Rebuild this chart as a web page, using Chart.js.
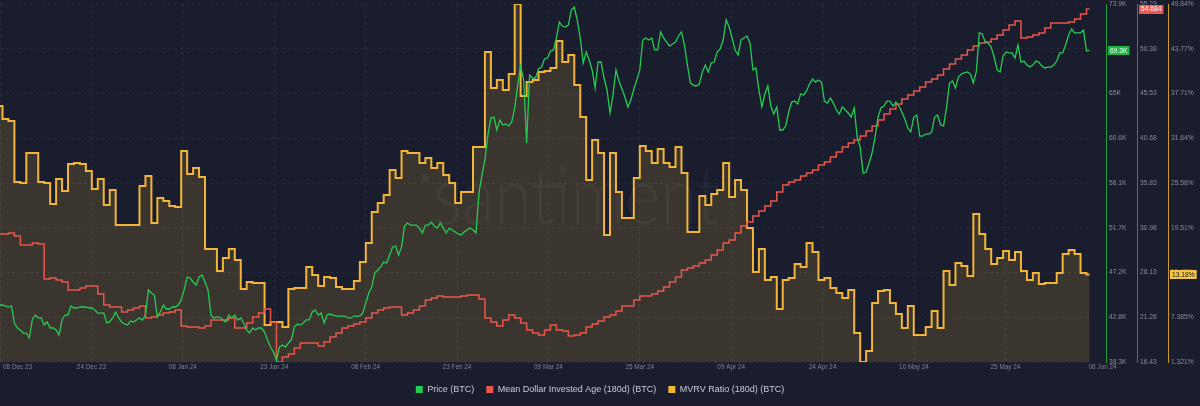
<!DOCTYPE html>
<html>
<head>
<meta charset="utf-8">
<script src="https://cdn.jsdelivr.net/npm/chart.js@4.4.1/dist/chart.umd.min.js"></script>
<style>
  html, body { margin: 0; padding: 0; background: #1a1d2e; }
  canvas { display: block; }
</style>
</head>
<body>
<canvas id="chart" width="1200" height="406"></canvas>
<script>
// daily values, 08 Dec 23 .. 08 Jun 24
var mvrv = [
  36.02,34.25,33.98,25.72,25.58,29.65,29.65,25.72,25.58,22.73,
  26.12,24.50,28.15,28.29,28.15,27.21,24.77,26.12,22.60,24.63,
  19.89,19.89,19.89,19.89,25.17,26.53,20.16,23.55,23.14,22.46,
  22.33,29.92,26.80,27.61,26.39,16.63,16.63,13.65,15.42,16.63,
  15.14,11.21,12.16,12.03,12.03,6.33,6.74,6.74,6.06,11.21,
  11.35,11.35,14.20,13.11,11.62,12.84,12.70,11.48,11.21,11.21,
  12.30,14.87,17.45,21.65,22.87,23.95,27.34,26.26,29.92,29.65,
  29.65,28.29,28.97,27.61,28.29,26.66,25.58,22.87,24.36,24.36,
  30.46,30.46,43.33,38.46,39.54,38.18,40.35,49.84,37.37,39.27,
  39.54,40.62,40.76,41.17,44.83,41.98,42.93,38.86,34.52,25.99,
  31.41,29.65,18.53,29.65,24.36,20.84,20.84,26.26,30.59,29.92,
  28.29,30.19,28.29,27.75,30.46,26.94,18.94,18.94,23.82,22.60,
  24.09,24.63,28.29,23.68,25.99,24.63,19.48,13.52,16.63,12.43,
  12.84,8.50,12.43,12.70,14.60,14.20,17.45,16.23,12.43,12.70,
  11.35,10.67,9.99,11.08,5.25,1.32,2.81,9.32,10.94,11.08,
  9.32,7.83,5.93,8.91,4.98,4.98,6.06,8.23,5.93,13.65,
  11.76,14.74,14.33,12.98,21.38,18.67,16.63,14.60,15.42,16.36,
  15.14,16.23,13.65,12.43,13.38,11.89,12.03,12.03,13.38,15.96,
  16.50,15.96,13.38,13.18
];

var mdia = [
  30.30,30.30,30.41,30.09,29.11,29.11,29.33,29.22,25.43,25.53,
  25.32,25.10,24.23,24.23,24.45,24.67,24.67,23.80,22.61,22.39,
  22.39,21.85,22.07,22.28,22.50,21.20,21.31,21.52,21.74,21.85,
  22.07,20.33,20.22,20.22,20.11,20.33,20.98,20.98,20.98,21.20,
  20.11,20.11,20.66,21.31,21.74,22.17,20.77,16.43,16.97,17.30,
  17.95,18.49,18.49,18.49,18.16,18.60,19.14,19.57,20.11,20.33,
  20.55,20.77,21.20,21.74,22.07,22.28,22.39,22.39,21.52,21.74,
  22.07,22.50,23.15,23.37,23.58,23.47,23.47,23.47,23.58,23.69,
  23.69,23.26,21.20,20.77,20.33,20.98,21.52,21.20,20.66,19.90,
  19.57,19.36,19.90,20.44,19.90,19.79,19.25,19.36,19.57,20.22,
  20.55,20.87,21.31,21.52,21.96,22.50,22.50,23.15,23.58,23.58,
  23.80,24.12,24.56,25.10,25.64,26.40,26.62,26.83,27.16,27.48,
  28.03,28.57,29.33,29.65,30.41,31.17,31.60,32.25,32.80,33.34,
  33.88,34.85,35.61,35.94,36.16,36.59,36.91,37.24,37.78,38.11,
  38.65,39.19,39.73,40.17,40.49,40.92,41.47,42.01,42.66,43.31,
  43.85,44.39,44.93,45.37,45.80,46.23,46.78,47.10,47.54,48.19,
  48.73,49.27,49.70,50.24,50.68,51.00,51.11,51.44,51.87,52.41,
  52.95,53.39,51.55,51.65,51.87,52.09,52.63,53.17,53.17,53.17,
  53.28,53.60,54.15,54.684
];

// BTC price in thousands USD, two readings per day
var priceK = [
  43.97,43.97,43.87,43.77,43.87,42.18,41.68,41.48,41.18,41.18,
  40.69,42.48,42.97,42.68,42.68,41.98,42.28,41.68,41.68,41.48,
  40.98,42.48,42.97,42.97,43.87,43.67,43.67,43.77,43.77,43.77,
  43.67,43.67,43.47,43.17,43.17,43.17,42.18,42.28,42.68,43.27,
  42.68,42.28,42.08,41.98,42.38,42.28,42.48,42.68,42.48,42.97,
  45.46,45.16,44.96,42.77,43.27,43.97,43.57,43.57,43.77,43.77,
  43.97,44.47,45.46,46.75,46.65,46.26,45.96,46.75,46.95,46.26,
  45.46,42.97,42.68,42.77,42.77,42.48,42.28,42.97,42.68,42.97,
  42.48,42.68,42.18,41.48,41.18,41.68,41.48,41.68,41.68,41.28,
  40.49,39.79,39.29,38.50,39.79,39.99,39.79,40.19,40.49,41.78,
  42.08,41.98,42.18,42.48,42.48,43.27,43.47,42.97,43.17,42.18,
  42.97,43.07,42.97,42.87,42.87,42.87,42.87,42.68,42.68,42.87,
  42.87,42.87,43.17,44.17,45.16,45.76,47.15,47.45,47.75,48.24,
  48.14,48.94,49.74,49.84,48.94,49.74,51.82,52.12,51.92,51.92,
  51.92,51.62,51.13,51.92,51.92,52.22,51.82,51.62,52.12,51.62,
  51.13,51.62,51.43,51.23,51.03,50.93,51.23,51.43,51.62,51.43,
  51.13,55.11,56.90,58.39,60.87,62.56,62.66,61.37,62.36,61.87,
  61.97,61.77,62.17,63.56,65.84,67.73,66.34,60.08,66.84,66.54,
  66.54,67.44,67.63,68.43,68.53,69.23,69.33,70.52,72.11,71.71,
  71.61,71.81,73.30,73.60,72.31,70.52,68.03,69.13,68.33,67.34,
  65.55,68.13,68.13,66.54,65.35,63.06,64.85,67.34,66.24,65.45,
  64.65,63.66,64.35,65.45,66.34,67.34,70.32,70.52,70.32,70.52,
  69.33,69.33,71.12,70.52,70.12,69.72,69.92,70.12,70.72,71.12,
  69.82,67.83,66.04,65.84,65.75,65.94,67.14,67.83,67.14,68.03,
  68.13,69.13,69.43,70.32,72.31,71.61,70.52,69.33,68.83,70.32,
  70.52,70.72,70.02,67.34,67.54,65.35,63.66,64.95,65.75,63.76,
  62.96,63.66,61.37,61.37,61.77,63.16,64.15,64.25,63.96,64.95,
  64.85,65.25,65.94,66.44,66.14,66.34,66.14,64.25,64.05,64.55,
  64.05,63.36,62.96,63.66,63.36,63.06,62.66,63.56,60.67,59.68,
  57.09,57.19,58.09,59.08,60.67,62.66,63.56,63.76,64.25,64.25,
  63.76,64.15,63.76,63.16,62.46,61.57,61.17,62.66,62.86,60.77,
  60.77,60.97,60.97,61.17,62.66,62.86,61.87,61.77,63.56,66.04,
  66.24,65.55,66.64,66.94,67.04,67.14,66.94,66.04,67.14,71.02,
  70.92,70.12,70.02,69.62,68.63,67.34,67.14,68.73,69.13,69.03,
  69.03,68.53,69.82,68.13,68.23,67.83,67.63,67.83,68.23,68.13,
  67.73,67.54,67.63,67.63,67.83,68.23,69.03,69.03,69.82,70.82,
  71.41,71.02,71.02,71.02,71.31,69.23,69.30
];

// x axis labels and where they sit (in days)
var xTickLabels = ['08 Dec 23','24 Dec 23','08 Jan 24','23 Jan 24','08 Feb 24','23 Feb 24',
  '09 Mar 24','25 Mar 24','09 Apr 24','24 Apr 24','10 May 24','25 May 24','08 Jun 24'];
var xTickDays = [0.08, 15.43, 30.77, 46.12, 61.46, 76.81, 92.16, 107.5, 122.85, 138.19, 153.54, 168.89, 185.2];

var priceTickLabels = ['38.3K','42.8K','47.2K','51.7K','56.1K','60.6K','65K','69.5K','73.9K'];
var mdiaTickLabels = ['16.43','21.28','26.13','30.98','35.83','40.68','45.53','50.38','55.23'];
var mvrvTickLabels = ['1.321%','7.385%','13.45%','19.51%','25.58%','31.64%','37.71%','43.77%','49.84%'];

var priceRange = [38.3, 73.9];
var mdiaRange = [16.43, 55.23];
var mvrvRange = [1.321, 49.84];

var GREEN = '#27cb52', RED = '#e9574c', YELLOW = '#f2b53a';
var FONT = '"Liberation Sans", Arial, sans-serif';
var PLOT_BOTTOM = 362;

function evenTicks(range, labels) {
  return function (s) {
    s.ticks = labels.map(function (t, i) {
      return { value: range[0] + i * (range[1] - range[0]) / (labels.length - 1) };
    });
  };
}

function rightAxis(id, weight, range, labels, borderColor, showGrid) {
  return {
    type: 'linear',
    position: 'right',
    weight: weight,
    min: range[0],
    max: range[1],
    afterBuildTicks: evenTicks(range, labels),
    ticks: {
      color: '#8a8e9e',
      font: { size: 6.7, family: FONT },
      padding: 3,
      autoSkip: false,
      callback: function (v, i) { return labels[i]; }
    },
    grid: {
      display: true,
      drawOnChartArea: showGrid,
      drawTicks: false,
      color: showGrid ? 'rgba(255,255,255,0.06)' : 'transparent'
    },
    border: { display: true, color: borderColor, width: 1, dash: [3, 3] },
    afterFit: function (s) { s.width = 31; s.paddingTop = 4; s.paddingBottom = 4; }
  };
}

var scales = {
  x: {
    type: 'linear',
    min: 0.08,
    max: 183.09,
    afterBuildTicks: function (s) {
      s.ticks = xTickDays.filter(function (d) { return d <= 183.09; }).map(function (d) { return { value: d }; });
    },
    ticks: { display: false },
    grid: { color: 'rgba(255,255,255,0.06)', drawTicks: false },
    border: { display: false, dash: [3, 3] },
    afterFit: function (s) {
      var legendH = s.chart.legend ? s.chart.legend.height : 0;
      s.height = 406 - 2 - PLOT_BOTTOM - legendH;
    }
  },
  ySpacer: {
    type: 'linear', position: 'right', weight: 0,
    ticks: { display: false },
    grid: { display: false },
    border: { display: false },
    afterFit: function (s) { s.width = 16; s.paddingTop = 0; s.paddingBottom = 0; }
  },
  yPrice: rightAxis('yPrice', 1, priceRange, priceTickLabels, '#1f9c3e', true),
  yMdia: rightAxis('yMdia', 2, mdiaRange, mdiaTickLabels, '#b84a44', false),
  yMvrv: rightAxis('yMvrv', 3, mvrvRange, mvrvTickLabels, '#c89a30', false)
};
scales.yMvrv.afterFit = function (s) { s.width = 32; s.paddingTop = 4; s.paddingBottom = 4; };

function drawBadge(ctx, scale, value, text, bg, fg) {
  var y = scale.getPixelForValue(value);
  ctx.font = '6.7px ' + FONT;
  var w = ctx.measureText(text).width + 4;
  ctx.fillStyle = bg;
  ctx.fillRect(scale.left + 2, Math.round(y - 4.5), w, 9);
  ctx.fillStyle = fg;
  ctx.textAlign = 'left';
  ctx.textBaseline = 'middle';
  ctx.fillText(text, scale.left + 4, y + 0.5);
}

var extras = {
  id: 'extras',
  beforeDatasetsDraw: function (chart) {
    var ctx = chart.ctx;
    ctx.save();
    ctx.fillStyle = 'rgba(255,255,255,0.045)';
    ctx.font = '300 80px Lato, ' + FONT;
    var w = ctx.measureText('santiment').width;
    ctx.beginPath();
    ctx.arc(425, 178, 4, 0, Math.PI * 2);
    ctx.fill();
    ctx.translate(433, 198);
    ctx.scale(287 / w, 1);
    ctx.fillText('santiment', 0, 0);
    ctx.restore();
  },
  afterDraw: function (chart) {
    var ctx = chart.ctx, x = chart.scales.x;
    ctx.save();
    ctx.font = '6.4px ' + FONT;
    ctx.fillStyle = '#7f8396';
    ctx.textAlign = 'center';
    ctx.textBaseline = 'middle';
    xTickLabels.forEach(function (t, i) {
      var px = x.getPixelForValue(xTickDays[i]);
      var hw = ctx.measureText(t).width / 2;
      ctx.fillText(t, Math.max(px, hw + 3), chart.chartArea.bottom + 5.5);
    });
    var lastP = priceK[priceK.length - 1];
    var lastM = mdia[mdia.length - 1];
    var lastV = mvrv[mvrv.length - 1];
    drawBadge(ctx, chart.scales.yPrice, lastP, lastP.toFixed(1) + 'K', '#1fb445', '#ffffff');
    drawBadge(ctx, chart.scales.yMdia, lastM, lastM.toFixed(3), '#ee5754', '#ffffff');
    drawBadge(ctx, chart.scales.yMvrv, lastV, lastV.toFixed(2) + '%', '#f4c445', '#1a1d2e');
    ctx.restore();
  }
};

var ctx = document.getElementById('chart').getContext('2d');
new Chart(ctx, {
  type: 'line',
  data: {
    datasets: [{
      label: 'Price (BTC)',
      data: priceK.map(function (v, i) { return { x: i * 0.5, y: v }; }),
      yAxisID: 'yPrice',
      borderColor: GREEN,
      borderWidth: 1.3,
      pointRadius: 0,
      order: 0
    }, {
      label: 'Mean Dollar Invested Age (180d) (BTC)',
      data: mdia.map(function (v, i) { return { x: i, y: v }; }),
      yAxisID: 'yMdia',
      borderColor: RED,
      borderWidth: 1.5,
      stepped: 'middle',
      pointRadius: 0,
      order: 1
    }, {
      label: 'MVRV Ratio (180d) (BTC)',
      data: mvrv.map(function (v, i) { return { x: i, y: v }; }),
      yAxisID: 'yMvrv',
      borderColor: YELLOW,
      backgroundColor: 'rgba(255,205,60,0.14)',
      borderWidth: 2,
      stepped: 'middle',
      fill: 'start',
      pointRadius: 0,
      order: 2
    }]
  },
  options: {
    responsive: false,
    devicePixelRatio: 1,
    animation: false,
    events: [],
    layout: { padding: { top: 0, left: 0, right: 0, bottom: 2 } },
    scales: scales,
    plugins: {
      tooltip: { enabled: false },
      legend: {
        position: 'bottom',
        labels: {
          boxWidth: 7,
          boxHeight: 7,
          padding: 12,
          color: '#c9ccd6',
          font: { size: 9, family: FONT },
          generateLabels: function (chart) {
            return chart.data.datasets.map(function (ds, i) {
              return { text: ds.label, fillStyle: ds.borderColor, strokeStyle: ds.borderColor,
                       lineWidth: 0, hidden: false, datasetIndex: i, fontColor: '#c9ccd6' };
            });
          }
        }
      }
    }
  },
  plugins: [extras]
});
</script>
</body>
</html>
